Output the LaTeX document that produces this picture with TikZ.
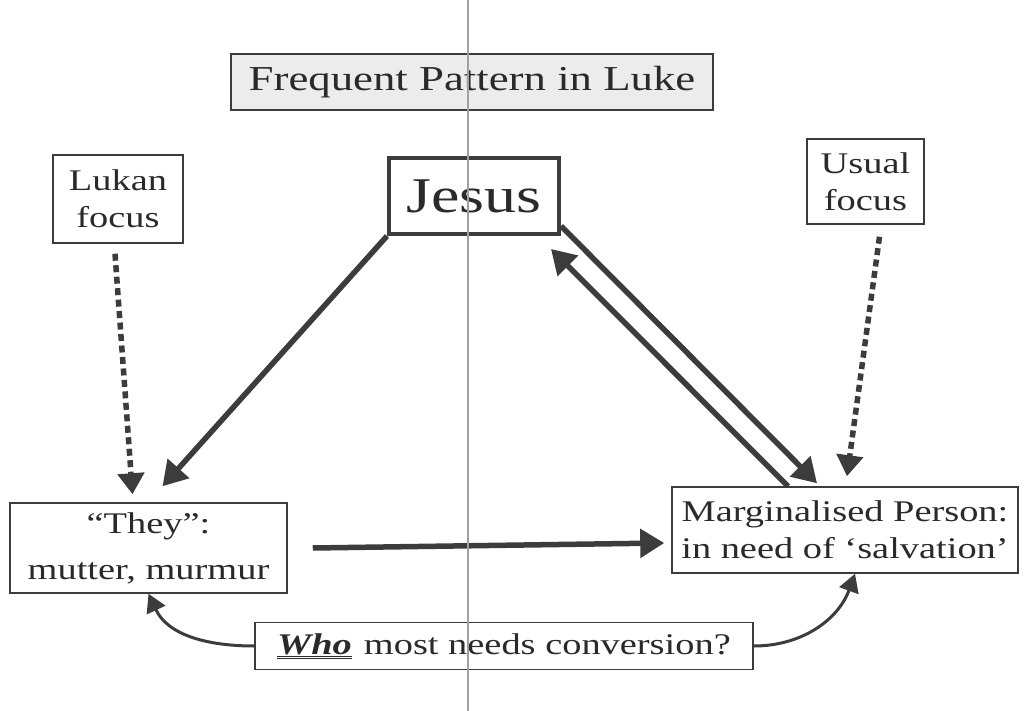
\documentclass[tikz,border=0pt]{standalone}
\usepackage{fontspec}
\setmainfont[FakeStretch=1.28]{Liberation Serif}
\usepackage{tikz}
\usetikzlibrary{arrows.meta}
\usetikzlibrary{positioning,calc}
\definecolor{ink}{HTML}{3C3C3C}
\definecolor{lettering}{HTML}{2A2A2A}
\definecolor{fold}{HTML}{A0A0A0}
\newcommand{\twounder}[1]{$\underline{\underline{\hbox{#1}}}$}

\begin{document}
\begin{tikzpicture}[x=1pt,y=-1pt,
    box/.style={draw=ink, line width=1.5pt, text=lettering, align=center, inner sep=2pt,
                font=\fontsize{30}{37}\selectfont},
    thickarrow/.style={draw=ink, line width=5.5pt, -{Triangle[length=24pt,width=28pt]}},
    dotsarrow/.style={draw=ink, line width=5.5pt, dash pattern=on 7pt off 4.5pt,
                -{Triangle[length=21pt,width=26pt]}},
    bendarrow/.style={draw=ink, line width=3pt, -{Triangle[length=18pt,width=20pt]}}]

  \useasboundingbox[fill=white] (0,0) rectangle (1025,711);

  %boxes
  \node[box, fill=gray!15, line width=2pt, minimum width=482pt, minimum height=56pt,
        font=\fontsize{35}{40}\selectfont] (title) at (472,82) {Frequent Pattern in Luke};
  \node[box, line width=4pt, minimum width=170pt, minimum height=76pt,
        font=\fontsize{50}{60}\selectfont] (jesus) at (474,196) {Jesus};
  \node[box, minimum width=130pt, minimum height=88pt] (lukan) at (118,199) {Lukan\\focus};
  \node[box, minimum width=117pt, minimum height=85pt] (usual) at (865.5,181.5) {Usual\\focus};
  \node[box, minimum width=277pt, minimum height=90pt,
        font=\fontsize{30}{46}\selectfont] (they) at (148.5,548) {“They”:\\mutter, murmur};
  \node[box, minimum width=346pt, minimum height=86pt] (marg) at (845,530)
        {Marginalised Person:\\in need of ‘salvation’};
  \node[box, minimum width=498pt, minimum height=47pt] (who) at (504,646)
        {\twounder{\textbf{\textit{Who}}}\hspace{12pt}most needs conversion?};

  %solid arrows
  \draw[thickarrow] (jesus.south west) -- ([xshift=14pt,yshift=16pt]they.north);
  \draw[thickarrow] ([yshift=10pt]jesus.south east) -- ([xshift=-28pt,yshift=3pt]marg.north);
  \draw[thickarrow] ([xshift=-57pt]marg.north) -- ([xshift=-10pt,yshift=-13pt]jesus.south east);
  \draw[thickarrow] ([xshift=25pt]they.east) -- ([xshift=-7pt,yshift=-13pt]marg.west);

  %focus arrows
  \foreach \from/\to/\sx/\sy/\ex/\ey in {lukan/they/-3/-10/-16/8, usual/marg/14/-12/2/10}{
    \draw[dotsarrow] ([xshift=\sx pt,yshift=\sy pt]\from.south) -- ([xshift=\ex pt,yshift=\ey pt]\to.north);
  }

  %question
  \draw[bendarrow] (who.west) to[out=180,in=-65] (they.south);
  \draw[bendarrow] (who.east) to[out=0,in=-110] ([xshift=10pt]marg.south);

  %fold of the page
  \draw[fold, line width=1.5pt] (468,0) -- (468,711);

\end{tikzpicture}
\end{document}
